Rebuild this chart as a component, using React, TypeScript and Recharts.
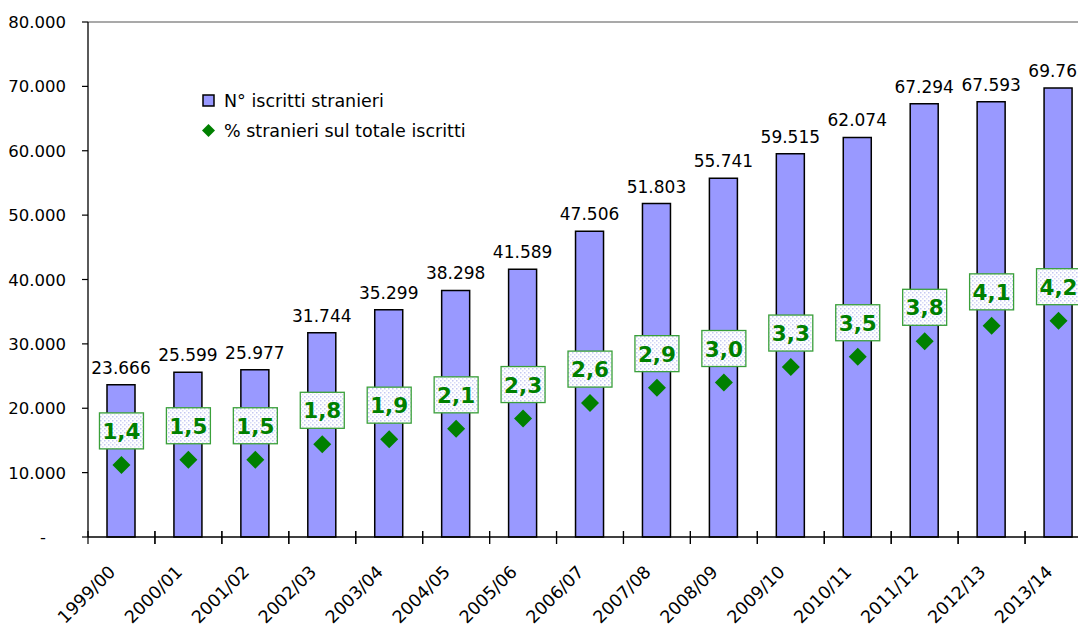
import React from "react";
import {
  ComposedChart,
  Bar,
  Line,
  XAxis,
  YAxis,
  LabelList,
  Legend,
  ReferenceLine,
} from "recharts";

// Iscritti stranieri per anno accademico, 1999/00 - 2013/14

const years = [
  "1999/00",
  "2000/01",
  "2001/02",
  "2002/03",
  "2003/04",
  "2004/05",
  "2005/06",
  "2006/07",
  "2007/08",
  "2008/09",
  "2009/10",
  "2010/11",
  "2011/12",
  "2012/13",
  "2013/14",
];

const iscritti = [
  23666, 25599, 25977, 31744, 35299, 38298, 41589, 47506, 51803, 55741, 59515,
  62074, 67294, 67593, 69765,
];

const percStranieri = [
  1.4, 1.5, 1.5, 1.8, 1.9, 2.1, 2.3, 2.6, 2.9, 3.0, 3.3, 3.5, 3.8, 4.1, 4.2,
];

const yTicks = [0, 10000, 20000, 30000, 40000, 50000, 60000, 70000, 80000];

const data = years.map((anno, i) => ({
  anno,
  iscritti: iscritti[i],
  perc: percStranieri[i],
}));

const FONT = "'DejaVu Sans', Verdana, sans-serif";
const BAR_FILL = "#9999ff";
const GREEN = "#008000";

function fmtMigliaia(n: number): string {
  if (n === 0) return "-";
  return String(Math.round(n)).replace(/\B(?=(\d{3})+(?!\d))/g, ".");
}

function fmtPerc(n: number): string {
  return n.toFixed(1).replace(".", ",");
}

function YTick(props: any) {
  const { x, y, payload } = props;
  const v = payload.value as number;
  return (
    <text
      x={v === 0 ? x - 20 : x}
      y={y}
      dy={6}
      textAnchor="end"
      fontSize={16.5}
      fontFamily={FONT}
      fill="#000"
    >
      {fmtMigliaia(v)}
    </text>
  );
}

function XTick(props: any) {
  const { x, y, payload } = props;
  const half = payload.offset ?? 0;
  const tx = x - 5;
  const ty = y + 36;
  return (
    <g>
      <line x1={x - half} y1={y - 6} x2={x - half} y2={y + 7} stroke="#000" strokeWidth={1.2} />
      <line x1={x + half} y1={y - 6} x2={x + half} y2={y + 7} stroke="#000" strokeWidth={1.2} />
      <text
        x={tx}
        y={ty}
        textAnchor="end"
        fontSize={17.5}
        fontFamily={FONT}
        fill="#000"
        transform={`rotate(-45, ${tx}, ${ty})`}
      >
        {payload.value}
      </text>
    </g>
  );
}

function Diamond(props: any) {
  const { cx, cy, index } = props;
  if (cx == null || cy == null) return null;
  const r = 9;
  return (
    <path
      key={`d-${index}`}
      d={`M${cx},${cy - r} L${cx + r},${cy} L${cx},${cy + r} L${cx - r},${cy} Z`}
      fill={GREEN}
    />
  );
}

function PercLabel(props: any) {
  const { x, y, value, index } = props;
  if (x == null || y == null) return null;
  const w = 44;
  const h = 36;
  const top = y - 52;
  return (
    <g key={`pl-${index}`}>
      <defs>
        <pattern id="puntini" width="4" height="4" patternUnits="userSpaceOnUse">
          <rect width="4" height="4" fill="#ffffff" />
          <rect x="0" y="0" width="1.5" height="1.5" fill="#c4c8f2" />
          <rect x="2" y="2" width="1.5" height="1.5" fill="#d8dbf6" />
        </pattern>
      </defs>
      <rect
        x={x - w / 2}
        y={top}
        width={w}
        height={h}
        fill="url(#puntini)"
        stroke="#3aa03a"
        strokeWidth={1.3}
      />
      <text
        x={x}
        y={top + h / 2 + 8}
        textAnchor="middle"
        fontSize={21.5}
        fontWeight="bold"
        fontFamily={FONT}
        fill={GREEN}
      >
        {fmtPerc(value)}
      </text>
    </g>
  );
}

function LegendBox() {
  return (
    <div style={{ fontFamily: FONT, fontSize: 17.5, color: "#000", lineHeight: "30px" }}>
      <div style={{ display: "flex", alignItems: "center" }}>
        <svg width={14} height={14} style={{ marginRight: 8 }}>
          <rect x={1} y={1} width={11} height={11} fill={BAR_FILL} stroke="#000" strokeWidth={1.5} />
        </svg>
        <span>N° iscritti stranieri</span>
      </div>
      <div style={{ display: "flex", alignItems: "center" }}>
        <svg width={14} height={14} style={{ marginRight: 8 }}>
          <path d="M6.5,0 L13,6.5 L6.5,13 L0,6.5 Z" fill={GREEN} />
        </svg>
        <span>% stranieri sul totale iscritti</span>
      </div>
    </div>
  );
}

export default function App() {
  return (
    <div
      style={{
        position: "absolute",
        left: 0,
        top: 0,
        width: 1078,
        height: 626,
        overflow: "hidden",
        background: "#fff",
      }}
    >
      <ComposedChart
        width={1100}
        height={626}
        data={data}
        margin={{ top: 22, right: 8, bottom: 0, left: 0 }}
      >
        <XAxis
          dataKey="anno"
          xAxisId="x"
          height={89}
          interval={0}
          tickSize={0}
          tickMargin={0}
          tickLine={false}
          axisLine={{ stroke: "#000", strokeWidth: 1.3 }}
          tick={<XTick />}
        />
        <YAxis
          yAxisId="left"
          width={88}
          domain={[0, 80000]}
          ticks={yTicks}
          interval={0}
          tickSize={6}
          tickMargin={16}
          axisLine={{ stroke: "#000", strokeWidth: 1.3 }}
          tickLine={{ stroke: "#000", strokeWidth: 1.2 }}
          tick={<YTick />}
        />
        <YAxis yAxisId="right" orientation="right" domain={[0, 10]} hide />
        <ReferenceLine yAxisId="left" xAxisId="x" y={80000} stroke="#8c8c8c" strokeWidth={1.3} />
        <Legend
          layout="vertical"
          align="center"
          verticalAlign="middle"
          wrapperStyle={{ position: "absolute", top: 86, left: 202, width: "auto" }}
          content={<LegendBox />}
        />
        <Bar
          dataKey="iscritti"
          xAxisId="x"
          yAxisId="left"
          fill={BAR_FILL}
          stroke="#000"
          strokeWidth={1.5}
          barSize={28}
          isAnimationActive={false}
        >
          <LabelList
            dataKey="iscritti"
            position="top"
            offset={11}
            formatter={(v: any) => fmtMigliaia(Number(v))}
            style={{ fontSize: 17, fontFamily: FONT, fill: "#000" }}
          />
        </Bar>
        <Line
          dataKey="perc"
          xAxisId="x"
          yAxisId="right"
          stroke="none"
          strokeWidth={0}
          dot={<Diamond />}
          activeDot={false}
          isAnimationActive={false}
        >
          <LabelList dataKey="perc" content={<PercLabel />} />
        </Line>
      </ComposedChart>
    </div>
  );
}
